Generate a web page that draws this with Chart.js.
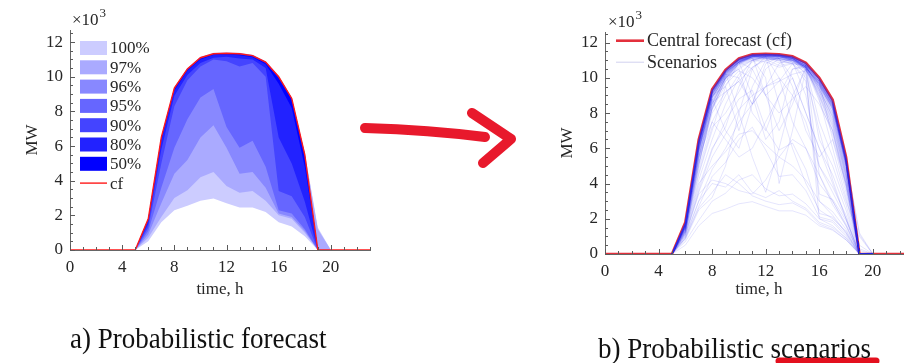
<!DOCTYPE html>
<html>
<head>
<meta charset="utf-8">
<script src="https://cdn.jsdelivr.net/npm/chart.js@4.4.1/dist/chart.umd.min.js"></script>
<style>
  html, body { margin: 0; padding: 0; background: #fff; width: 904px; height: 363px; overflow: hidden; }
  body { position: relative; }
  #boxA { position: absolute; left: 0; top: 0; width: 380px; height: 300px; }
  #boxB { position: absolute; left: 535px; top: 0; width: 400px; height: 300px; }
  .cap { position: absolute; font-family: "Liberation Serif", serif; font-size: 30px; color: #111;
         white-space: nowrap; transform: scaleX(0.9); transform-origin: left center; }
  svg { position: absolute; left: 0; top: 0; }
</style>
</head>
<body>
<div id="boxA"><canvas id="fanChart" width="380" height="300"></canvas></div>
<div id="boxB"><canvas id="scenChart" width="400" height="300"></canvas></div>
<svg width="904" height="363">
  <path d="M365 128 Q 430 130 485 137" stroke="#e8192c" stroke-width="10" fill="none" stroke-linecap="round"/>
  <path d="M472 113 L511 139 L483 163" stroke="#e8192c" stroke-width="10" fill="none" stroke-linecap="round" stroke-linejoin="round"/>
  <path d="M779 361 L876 361" stroke="#e3101e" stroke-width="7" stroke-linecap="round"/>
</svg>
<div class="cap" style="left:70px; top:321px;">a) Probabilistic forecast</div>
<div class="cap" style="left:598px; top:331px;">b) Probabilistic scenarios</div>

<script>
// values in MW x 10^3
const hours = [0,1,2,3,4,5,6,7,8,9,10,11,12,13,14,15,16,17,18,19,20,21,22,23];
const cf = [0,0,0,0,0,0,1.8,6.5,9.35,10.45,11.1,11.33,11.36,11.33,11.22,10.85,10.0,8.75,5.5,0,0,0,0,0];

// fan chart bands, hours 5..20
const bandHours = [5,6,7,8,9,10,11,12,13,14,15,16,17,18,19,20];
const bandLabels = ["100%", "97%", "96%", "95%", "90%", "80%", "50%"];
const bandColors = ["#ccccff", "#aaaaff", "#8888ff", "#6666ff", "#4444ff", "#2222ff", "#0000ff"];
const bandLower = [
  [0,0.5,1.6,2.3,2.55,2.85,2.97,2.7,2.45,2.45,2.2,1.6,1.35,0.8,0,0],
  [0,0.7,1.9,3.0,3.45,4.2,4.5,3.7,3.3,3.4,2.85,2.0,1.8,1.0,0,0],
  [0,0.9,2.7,4.4,5.2,6.5,7.2,5.9,4.4,4.5,3.6,2.1,1.9,1.1,0,0],
  [0,1.1,3.6,5.9,7.55,8.8,9.3,7.1,5.9,6.3,4.8,2.3,2.1,1.2,0,0],
  [0,1.3,5.0,8.3,9.8,10.6,11.0,10.9,10.6,10.8,10.0,3.4,3.1,1.9,0,0],
  [0,1.5,5.8,8.9,10.1,10.8,11.1,11.15,11.05,11.0,10.5,6.5,5.0,2.8,0,0],
  [0,1.7,6.3,9.2,10.35,11.0,11.25,11.28,11.24,11.12,10.72,9.6,8.2,4.8,0,0]
];
const bandUpper = [
  [0,1.85,6.55,9.4,10.5,11.15,11.38,11.4,11.38,11.27,10.9,10.05,8.8,5.6,1.3,0],
  [0,1.83,6.53,9.38,10.48,11.13,11.36,11.38,11.36,11.25,10.88,10.03,8.78,5.58,1.2,0],
  [0,1.82,6.52,9.37,10.47,11.12,11.35,11.37,11.35,11.24,10.87,10.02,8.77,5.56,0,0],
  [0,1.81,6.51,9.36,10.46,11.11,11.34,11.37,11.34,11.23,10.86,10.01,8.76,5.54,0,0],
  [0,1.8,6.5,9.35,10.45,11.1,11.33,11.36,11.33,11.22,10.85,10.0,8.75,5.52,0,0],
  [0,1.79,6.48,9.33,10.43,11.08,11.31,11.34,11.31,11.2,10.83,9.98,8.73,5.5,0,0],
  [0,1.77,6.45,9.3,10.4,11.05,11.28,11.31,11.28,11.17,10.8,9.95,8.7,5.47,0,0]
];

// scenarios, hours 5..20
const scenarioHours = [5,6,7,8,9,10,11,12,13,14,15,16,17,18,19,20];
const scenarios = [
  [0,1.78,6.45,9.3,10.42,11.08,11.31,11.34,11.31,11.2,10.82,9.96,8.7,5.45,0,0],
  [0,1.7,6.3,9.2,10.35,11.02,11.28,11.3,11.28,11.15,10.75,9.85,8.55,5.3,0,0],
  [0,1.6,6.1,9.05,10.25,10.95,11.22,11.25,11.2,11.05,10.6,9.6,8.2,5.0,0,0],
  [0,1.5,5.9,8.9,10.15,10.88,11.15,11.18,11.1,10.95,10.45,9.35,7.9,4.7,0,0],
  [0,1.75,6.4,9.28,10.4,11.05,11.3,11.2,10.95,11.0,10.7,9.8,8.5,5.35,0,0],
  [0,1.65,6.25,9.15,10.3,11.0,11.25,11.3,11.25,11.1,10.65,9.5,8.0,4.9,0,0],
  [0,1.4,5.6,8.7,10.0,10.8,11.1,11.15,11.05,10.9,10.4,9.2,7.6,4.4,0,0],
  [0,1.72,6.38,9.27,10.38,11.05,11.29,11.33,11.3,11.18,10.8,9.9,8.62,5.4,0,0],
  [0,1.55,6.0,9.0,10.2,10.9,11.2,11.24,11.22,11.08,10.7,9.75,8.4,5.15,0,0],
  [0,1.68,6.3,9.22,10.36,11.03,11.27,11.05,10.7,10.85,10.55,9.65,8.3,5.1,0,0],
  [0,1.8,6.48,9.33,10.44,11.09,11.32,11.35,11.32,11.21,10.84,9.98,8.72,5.47,0,0],
  [0,1.45,5.8,8.85,10.1,10.85,11.15,11.2,11.18,11.0,10.5,9.0,7.3,4.2,0,0],
  [0,1.6,6.15,9.1,10.28,10.97,11.23,11.28,11.26,11.12,10.72,9.8,8.45,5.2,0.5,0],
  [0,1.74,6.42,9.29,10.41,11.06,11.3,11.32,11.28,11.12,10.6,9.3,7.8,4.6,0,0],
  [0,1.62,6.2,9.12,10.3,10.98,11.24,11.29,11.26,11.13,10.76,9.88,8.58,5.35,1.1,0],
  [0,1.5,5.95,8.95,10.2,10.9,11.18,11.22,11.2,11.05,10.65,9.7,8.35,5.1,0,0],
  [0,1.76,6.44,9.31,10.43,11.07,11.3,11.3,11.22,11.16,10.8,9.92,8.66,5.42,0,0],
  [0,1.35,5.5,8.6,9.95,10.75,11.05,11.12,11.1,10.95,10.55,9.55,8.1,4.9,0,0],
  [0,1.7,6.35,9.25,10.38,11.04,11.28,11.31,11.29,11.17,10.78,9.9,8.6,5.38,0,0],
  [0,1.58,6.1,9.08,10.26,10.96,11.22,11.27,11.24,11.1,10.7,9.4,7.7,4.5,0,0],
  [0,1.66,6.28,9.18,10.33,11.01,11.26,11.29,11.27,11.14,10.77,9.87,8.56,5.32,0,0],
  [0,1.52,5.98,8.98,10.22,10.92,11.19,11.24,11.21,11.07,10.68,9.78,8.45,5.2,0.3,0],
  [0,1.79,6.47,9.32,10.43,11.08,11.31,11.33,11.3,11.19,10.82,9.95,8.7,5.46,0,0],
  [0,1.64,6.22,9.14,10.31,10.99,11.25,11.15,10.85,10.9,10.62,9.7,8.36,5.14,0,0],
  [0,1.46,5.85,8.88,10.12,10.86,11.16,11.21,11.19,11.03,10.62,9.65,8.28,5.05,0,0],
  [0,1.73,6.4,9.28,10.4,11.06,11.3,11.33,11.3,11.19,10.81,9.94,8.68,5.44,0,0],
  [0,1.56,6.05,9.04,10.24,10.93,11.21,11.26,11.23,11.09,10.71,9.8,8.48,5.25,0,0],
  [0,1.69,6.33,9.23,10.37,11.03,11.27,11.3,11.28,11.16,10.79,9.91,8.64,5.4,0,0],
  [0,1.3,5.2,8.4,10.0,10.9,11.25,11.3,11.28,11.15,10.7,9.3,7.5,4.3,0,0],
  [0,1.2,5.0,8.2,9.9,10.8,11.2,11.28,11.26,11.1,10.5,8.9,7.0,4.0,0,0],
  [0,1.5,5.7,8.7,10.1,10.95,11.28,11.32,11.3,11.12,10.55,9.1,7.2,4.1,0,0],
  [0,1.35,5.4,8.5,10.05,10.9,11.22,11.3,11.28,11.1,10.6,9.2,7.4,4.4,0.2,0],
  [0,1.6,5.9,8.8,10.15,10.92,11.25,11.3,11.27,11.14,10.66,9.4,7.8,4.6,0,0],
  [0,1.25,5.1,8.3,9.95,10.85,11.2,11.26,11.24,11.08,10.5,8.7,6.8,3.8,0,0],
  [0,0.5,1.6,2.3,2.55,2.85,2.97,2.7,2.45,2.45,2.2,1.6,1.35,0.8,0,0],
  [0,0.7,1.9,3.0,3.45,4.2,4.5,3.7,3.3,3.4,2.85,2.0,1.8,1.0,0,0],
  [0,0.9,2.7,4.4,5.2,6.5,7.2,5.9,4.4,4.5,3.6,2.1,1.9,1.1,0,0],
  [0,1.1,3.6,5.9,7.55,8.8,9.3,7.1,5.9,6.3,4.8,2.3,2.1,1.2,0,0],
  [0,1.3,5.0,8.3,9.8,10.6,11.0,10.9,10.6,10.8,10.0,3.4,3.1,1.9,0,0],
  [0,1.5,5.8,8.9,10.1,10.8,11.1,11.15,11.05,11.0,10.5,6.5,5.0,2.8,0,0],
  [0,1.7,6.3,9.2,10.3,8.0,5.5,3.5,6.0,9.0,10.5,9.5,8.3,5.2,0,0],
  [0,1.2,4.5,7.0,9.5,10.9,11.2,11.2,8.5,6.0,4.0,2.5,2.0,1.3,0,0],
  [0,0.8,2.5,3.2,5.0,8.0,10.5,11.2,11.2,11.0,10.6,9.6,8.2,5.0,0,0],
  [0,1.6,6.0,9.0,10.2,10.9,9.0,6.5,7.5,10.5,10.7,9.7,8.4,5.2,0,0],
  [0,1.4,5.5,8.6,10.0,10.8,11.2,11.2,11.1,10.9,9.0,5.0,3.5,2.0,0,0],
  [0,1.0,3.0,4.0,3.8,4.5,3.5,3.2,3.6,3.0,2.6,1.8,1.5,0.9,0,0],
  [0,1.7,6.4,9.2,10.3,11.0,11.2,11.2,10.0,7.5,6.0,4.5,3.0,1.6,0,0],
  [0,1.5,5.9,8.8,7.0,6.0,8.5,10.8,11.2,11.1,10.6,9.7,8.5,5.3,0,0],
  [0,1.2,4.2,6.5,8.5,10.0,11.0,11.2,11.2,11.0,10.6,7.5,5.5,3.0,1.0,0],
  [0,0.9,2.6,3.5,4.5,4.0,3.3,3.0,2.8,2.9,2.5,1.7,1.4,0.8,0,0],
  [0,1.6,6.2,9.1,10.3,10.9,11.2,9.0,7.0,8.5,10.7,9.9,8.6,5.4,0,0],
  [0,1.5,5.8,8.5,10.0,10.5,8.0,7.0,9.0,10.0,8.0,6.0,4.0,2.0,0,0],
  [0,1.3,4.8,7.5,9.0,10.2,10.9,11.1,11.0,10.8,10.3,2.0,1.6,0.9,0,0],
  [0,1.6,6.1,9.0,9.5,7.0,9.5,11.0,11.1,9.5,7.0,5.5,6.5,4.0,0,0],
  [0,1.1,3.8,6.0,7.2,9.5,11.0,11.2,11.15,11.05,10.6,9.6,8.2,5.1,0,0],
  [0,1.7,6.35,9.25,10.35,11.0,11.1,10.0,4.0,7.0,10.5,9.8,8.5,5.3,0,0],
  [0,1.0,3.5,5.5,6.8,8.2,9.0,9.5,9.8,10.2,10.4,9.5,8.0,4.8,0,0],
  [0,1.6,6.2,9.1,10.3,10.9,10.5,9.0,8.0,8.8,9.5,8.5,7.0,4.0,0,0],
  [0,1.5,5.5,7.5,6.5,5.5,6.0,7.5,9.0,10.5,10.6,9.6,8.3,5.2,0,0],
  [0,1.2,4.0,5.0,5.8,6.8,7.0,6.2,5.5,5.0,4.2,3.0,2.4,1.4,0,0],
  [0,1.7,6.3,9.2,10.3,10.9,11.1,11.2,11.1,10.0,8.0,6.0,4.5,2.5,0,0],
  [0,1.4,5.2,8.0,9.2,9.8,8.5,10.5,11.1,11.0,10.6,9.0,7.0,3.8,0,0],
  [0,1.6,6.1,8.9,10.0,10.5,11.0,11.2,11.2,11.1,10.7,4.5,2.8,1.6,0,0],
  [0,0.9,3.0,4.8,6.0,7.5,8.5,9.5,10.0,9.0,7.5,5.0,3.8,2.2,0,0],
  [0,1.7,6.4,9.25,10.4,11.0,11.2,11.25,11.2,11.1,10.7,9.8,6.5,3.5,0,0],
  [0,1.5,5.6,8.2,9.6,10.4,10.0,9.0,9.8,10.8,10.7,8.8,6.0,3.2,0,0],
  [0,1.3,4.6,7.2,8.0,9.2,10.6,11.1,11.15,11.0,10.2,7.0,4.2,2.0,0,0],
  [0,1.1,3.4,4.2,4.0,3.6,3.4,4.2,5.5,6.5,6.0,4.0,3.0,1.7,0,0],
  [0,1.7,6.3,9.1,10.2,10.0,8.5,9.5,10.8,11.1,10.7,9.8,8.5,5.3,1.2,0],
  [0,1.6,6.0,8.6,9.2,9.8,10.6,11.0,11.1,11.0,10.6,9.7,8.4,5.2,0,0],
  [0,1.4,5.4,8.3,9.8,10.7,11.0,11.1,11.0,10.8,9.8,3.0,2.2,1.2,0,0]
];

const FONT = '"Liberation Serif", serif';
const TXT = "#262626";
Chart.defaults.font.family = FONT;
Chart.defaults.color = TXT;

const pts = (xs, ys) => ys.map((v, k) => ({ x: xs[k], y: v }));

// inward ticks, x10^3 label and in-axes legend
const decor = {
  id: "decor",
  afterDatasetsDraw(chart, args, o) {
    const { ctx, chartArea: a, scales: { x, y } } = chart;
    ctx.save();
    ctx.strokeStyle = "#5a5a5a";
    ctx.lineWidth = 1;
    ctx.beginPath();
    for (let h = 0; h <= x.max; h += 1) {
      const px = Math.round(x.getPixelForValue(h)) + 0.5;
      ctx.moveTo(px, a.bottom);
      ctx.lineTo(px, a.bottom - (h % 4 ? 3 : 5));
    }
    for (let v = 0; v <= y.max; v += 0.5) {
      const py = Math.round(y.getPixelForValue(v)) + 0.5;
      ctx.moveTo(a.left, py);
      ctx.lineTo(a.left + (v % 2 ? 3 : 5), py);
    }
    ctx.stroke();

    ctx.fillStyle = TXT;
    ctx.textBaseline = "alphabetic";
    ctx.font = "17px " + FONT;
    const ex = a.left + o.expX;
    ctx.fillText("×10", ex, a.top - 5);
    const w = ctx.measureText("×10").width;
    ctx.font = "13px " + FONT;
    ctx.fillText("3", ex + w + 1, a.top - 13);

    ctx.font = o.fontSize + "px " + FONT;
    ctx.textBaseline = "middle";
    o.items.forEach((it, i) => {
      const cy = a.top + o.top + i * o.gap;
      const x0 = a.left + o.left;
      if (it.box) {
        ctx.fillStyle = it.color;
        ctx.fillRect(x0, cy - 7, o.len, 14);
      } else {
        ctx.strokeStyle = it.color;
        ctx.lineWidth = it.width;
        ctx.beginPath();
        ctx.moveTo(x0, cy);
        ctx.lineTo(x0 + o.len, cy);
        ctx.stroke();
      }
      ctx.fillStyle = TXT;
      ctx.fillText(it.text, x0 + o.len + 3, cy + 1);
    });
    ctx.restore();
  }
};

function axes(xHeight, xMax, yMax) {
  return {
    x: {
      type: "linear", min: 0, max: xMax,
      grid: { display: false, drawTicks: false },
      border: { display: true, color: "#666", width: 1 },
      ticks: { stepSize: 4, includeBounds: false, padding: 7, font: { size: 17 }, color: TXT, maxRotation: 0 },
      title: { display: true, text: "time, h", font: { size: 17 }, color: TXT, padding: 0 },
      afterFit: s => { s.height = xHeight; }
    },
    y: {
      min: 0, max: yMax,
      grid: { display: false, drawTicks: false },
      border: { display: true, color: "#666", width: 1 },
      ticks: { stepSize: 2, includeBounds: false, padding: 7, font: { size: 17 }, color: TXT },
      title: { display: true, text: "MW", font: { size: 17 }, color: TXT, padding: { top: 22, bottom: 0 } },
      afterFit: s => { s.width = 70; }
    }
  };
}

// a) probabilistic forecast
const fanSets = [];
bandLabels.forEach((lab, i) => {
  fanSets.push({ label: lab + " low", data: pts(bandHours, bandLower[i]), borderColor: "transparent",
    borderWidth: 0, pointRadius: 0, fill: false, order: 20 });
  fanSets.push({ label: lab, data: pts(bandHours, bandUpper[i]), borderColor: "transparent",
    borderWidth: 0, pointRadius: 0, backgroundColor: bandColors[i], fill: fanSets.length - 1, order: 10 - i });
});
fanSets.push({ label: "cf", data: pts(hours, cf), borderColor: "#ff1a1a", borderWidth: 1.4,
  pointRadius: 0, fill: false, order: 0 });

new Chart(document.getElementById("fanChart"), {
  type: "line",
  data: { datasets: fanSets },
  options: {
    responsive: false, animation: false, events: [],
    layout: { padding: { left: 0, right: 10, top: 30, bottom: 0 } },
    elements: { line: { tension: 0 } },
    scales: axes(50, 23, 12.7),
    plugins: {
      legend: { display: false }, tooltip: { enabled: false },
      decor: {
        expX: 2, top: 18, gap: 19.3, left: 10, len: 27, fontSize: 17,
        items: bandLabels.map((t, i) => ({ text: t, box: true, color: bandColors[i] }))
          .concat([{ text: "cf", color: "#ff1a1a", width: 1.4 }])
      }
    }
  },
  plugins: [decor]
});

// b) probabilistic scenarios
const scenSets = [{ label: "Central forecast (cf)", data: pts(hours, cf), borderColor: "#e3303c",
  borderWidth: 2.6, pointRadius: 0, fill: false, order: 100 }];
scenarios.forEach(s => scenSets.push({ label: "Scenarios", data: pts(scenarioHours, s),
  borderColor: "rgba(40,40,235,0.12)", borderWidth: 1, pointRadius: 0, fill: false, order: 1 }));

new Chart(document.getElementById("scenChart"), {
  type: "line",
  data: { datasets: scenSets },
  options: {
    responsive: false, animation: false, events: [],
    layout: { padding: { left: 0, right: 22, top: 32, bottom: 0 } },
    elements: { line: { tension: 0 } },
    scales: axes(46, 23, 12.6),
    plugins: {
      legend: { display: false }, tooltip: { enabled: false },
      decor: {
        expX: 3, top: 8.7, gap: 21.5, left: 11, len: 28, fontSize: 18,
        items: [
          { text: "Central forecast (cf)", color: "#e3303c", width: 2.6 },
          { text: "Scenarios", color: "rgba(120,120,210,0.35)", width: 1 }
        ]
      }
    }
  },
  plugins: [decor]
});
</script>
</body>
</html>
